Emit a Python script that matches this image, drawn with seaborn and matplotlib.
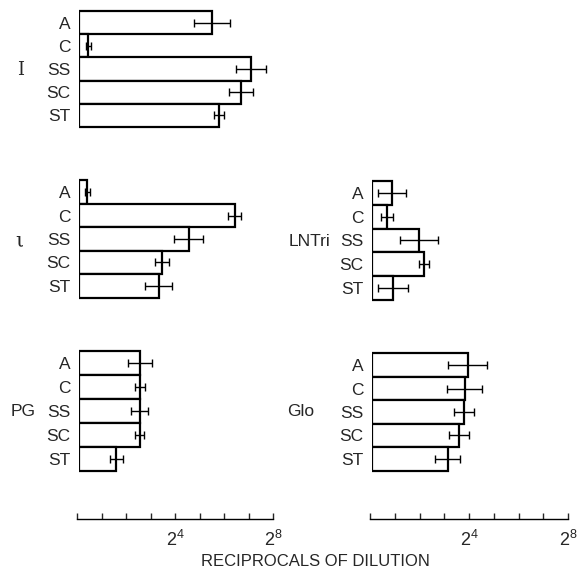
import numpy as np
import seaborn as sns
import matplotlib
matplotlib.use('Agg')
import matplotlib.pyplot as plt

# categories (rows in each panel)
cats = ['A', 'C', 'SS', 'SC', 'ST']

# values in log2 units (reciprocal of dilution), with half-width of error bars
I_vals = [5.43, 0.37, 7.02, 6.61, 5.71]
I_err = [0.72, 0.10, 0.60, 0.50, 0.20]
t_vals = [0.33, 6.35, 4.48, 3.40, 3.25]
t_err = [0.10, 0.27, 0.60, 0.28, 0.55]
LNTri_vals = [0.81, 0.61, 1.89, 2.09, 0.85]
LNTri_err = [0.57, 0.24, 0.77, 0.20, 0.60]
PG_vals = [2.50, 2.48, 2.48, 2.48, 1.52]
PG_err = [0.48, 0.20, 0.35, 0.18, 0.26]
Glo_vals = [3.87, 3.74, 3.72, 3.50, 3.06]
Glo_err = [0.78, 0.70, 0.40, 0.40, 0.50]

scale_ticks = list(range(9))
scale_labels = ['' if k not in (4, 8) else r'$\mathregular{2^{%d}}$' % k for k in scale_ticks]

sns.set_style('white')
plt.rcParams['font.family'] = ['Liberation Sans', 'DejaVu Sans']

W, H = 580, 573
fig = plt.figure(figsize=(W / 100, H / 100), dpi=100)

def rect(x, y_top, w, h):
    # pixel box -> figure fraction
    return [x / W, 1 - (y_top + h) / H, w / W, h / H]

serif = dict(family='DejaVu Serif')
panels = [
    ('I', I_vals, I_err, rect(79, 9, 196, 120), (21, 70), dict(serif, fontsize=13)),
    ('ι', t_vals, t_err, rect(79, 178, 196, 122), (19, 241), dict(serif, fontsize=15)),
    ('LNTri', LNTri_vals, LNTri_err, rect(372, 179, 198, 123), (310, 242), dict(fontsize=12.5)),
    ('PG', PG_vals, PG_err, rect(79, 349, 196, 124), (23, 411), dict(fontsize=12.5)),
    ('Glo', Glo_vals, Glo_err, rect(372, 351, 198, 122), (301, 412), dict(fontsize=12.5)),
]

for name, vals, errs, box, (tx, ty), font in panels:
    ax = fig.add_axes(box)
    sns.barplot(x=vals, y=cats, orient='h', color='white', edgecolor='black',
                linewidth=1.6, width=1.0, saturation=1, ax=ax)
    ax.errorbar(vals, np.arange(len(cats)), xerr=errs, fmt='none', ecolor='black',
                elinewidth=1, capsize=3, capthick=1)
    ax.set_xlim(0, 8)
    ax.set_ylim(4.6, -0.6)
    ax.set_xticks([])
    ax.set_xlabel('')
    ax.set_ylabel('')
    ax.tick_params(axis='y', length=0, pad=6, labelsize=12.5)
    for s in ax.spines.values():
        s.set_visible(False)
    fig.text(tx / W, 1 - ty / H, name, ha='center', va='center', **font)

# dilution scales under each column
for x0, w in [(77, 196), (370, 198)]:
    sx = fig.add_axes(rect(x0, 509, w, 10))
    sx.set_xlim(0, 8)
    sx.set_ylim(0, 1)
    sx.set_yticks([])
    sx.set_xticks(scale_ticks)
    sx.set_xticklabels(scale_labels, fontsize=13)
    sx.tick_params(axis='x', direction='in', length=4, width=1, pad=8, bottom=True)
    for k in ['left', 'right', 'top']:
        sx.spines[k].set_visible(False)
    sx.spines['bottom'].set_linewidth(1)
    sx.spines['bottom'].set_color('black')
    sx.patch.set_alpha(0)

fig.text(315 / W, 1 - 561 / H, 'RECIPROCALS OF DILUTION', ha='center', va='center', fontsize=12)

fig.savefig('out.png', dpi=100)
